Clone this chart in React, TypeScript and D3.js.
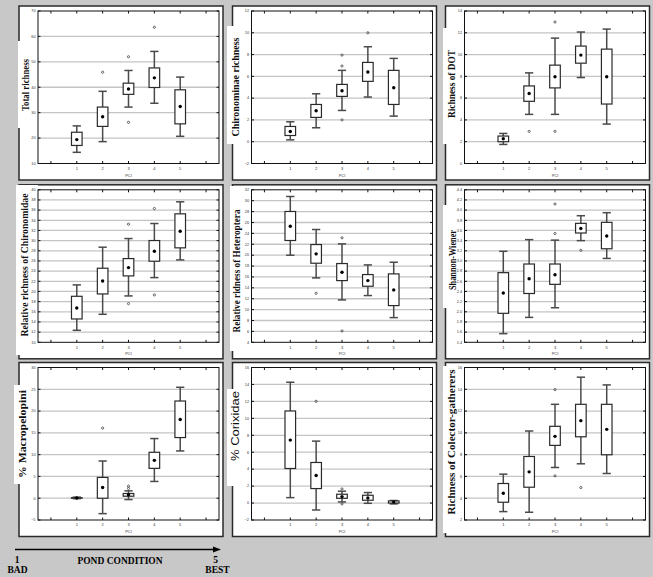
import * as d3 from 'd3';

const pciLevels = [1, 2, 3, 4, 5];
const xTickPositions = [0, 1, 2, 3, 4, 5, 6];

// each row: [whisker low, box low, mean, box high, whisker high] for PCI 1..5
const totalRichness = [
  [14.4, 17.1, 19.4, 22.3, 24.8],
  [18.6, 24.6, 28.4, 32.2, 38.4],
  [32.2, 37.2, 39.3, 41.6, 46.6],
  [33.7, 39.9, 43.7, 47.6, 54.1],
  [20.7, 25.6, 32.4, 39.0, 44.0],
];
const totalRichnessOut = [[2, 45.9], [3, 52.0], [3, 26.2], [4, 63.6]];
const totalRichnessTicks = [10, 20, 30, 40, 50, 60, 70];

const chironominae = [
  [0.17, 0.57, 0.94, 1.4, 1.83],
  [1.28, 2.23, 2.84, 3.42, 4.4],
  [2.87, 4.16, 4.68, 5.26, 6.55],
  [4.1, 5.54, 6.4, 7.28, 8.72],
  [2.35, 3.42, 4.95, 6.55, 7.65],
];
const chironominaeOut = [[3, 7.95], [3, 6.95], [3, 2.0], [4, 10.0]];
const chironominaeTicks = [-2, 0, 2, 4, 6, 8, 10, 12];

const dotRichness = [
  [1.75, 2.0, 2.27, 2.52, 2.76],
  [4.51, 5.71, 6.42, 7.12, 8.32],
  [4.51, 6.94, 7.97, 9.03, 11.51],
  [7.89, 9.21, 9.95, 10.78, 12.07],
  [3.62, 5.46, 7.97, 10.5, 12.34],
];
const dotRichnessOut = [[2, 2.95], [3, 12.99], [3, 2.95]];
const dotRichnessTicks = [0, 2, 4, 6, 8, 10, 12, 14];

const relChironomidae = [
  [12.36, 14.59, 16.76, 19.05, 21.29],
  [15.51, 19.51, 22.07, 24.57, 28.71],
  [19.12, 23.06, 24.7, 26.47, 30.41],
  [22.73, 25.95, 27.92, 30.02, 33.37],
  [26.21, 28.58, 31.86, 35.27, 37.64],
];
const relChironomidaeOut = [[3, 33.24], [3, 17.61], [4, 36.32], [4, 19.32]];
const relChironomidaeTicks = [10, 12, 14, 16, 18, 20, 22, 24, 26, 28, 30, 32, 34, 36, 38, 40];

const relHeteroptera = [
  [19.99, 22.69, 25.32, 28.02, 30.77],
  [15.82, 18.52, 20.24, 21.95, 24.71],
  [11.78, 15.33, 16.87, 18.46, 22.07],
  [12.58, 14.29, 15.33, 16.44, 18.21],
  [8.53, 10.74, 13.62, 16.56, 18.7],
];
const relHeteropteraOut = [[2, 13.0], [3, 23.18], [3, 6.08]];
const relHeteropteraTicks = [4, 6, 8, 10, 12, 14, 16, 18, 20, 22, 24, 26, 28, 30, 32];

const shannonWiener = [
  [1.57, 1.97, 2.37, 2.77, 3.19],
  [1.89, 2.36, 2.65, 2.94, 3.42],
  [2.08, 2.54, 2.73, 2.94, 3.41],
  [3.4, 3.55, 3.64, 3.74, 3.89],
  [3.05, 3.24, 3.49, 3.76, 3.95],
];
const shannonWienerOut = [[3, 4.12], [3, 3.54], [4, 3.21]];
const shannonWienerTicks = [1.4, 1.6, 1.8, 2.0, 2.2, 2.4, 2.6, 2.8, 3.0, 3.2, 3.4, 3.6, 3.8, 4.0, 4.2, 4.4];

const macropelopini = [
  [-0.1, 0.0, 0.05, 0.12, 0.25],
  [-3.54, 0.0, 2.46, 4.77, 8.54],
  [-0.31, 0.46, 0.77, 1.08, 1.69],
  [3.85, 6.85, 8.69, 10.54, 13.69],
  [10.85, 13.92, 18.08, 22.31, 25.46],
];
const macropelopiniOut = [[2, 16.08], [3, 2.77], [3, 2.25]];
const macropelopiniTicks = [-5, 0, 5, 10, 15, 20, 25, 30];

const corixidae = [
  [0.64, 4.08, 7.43, 10.87, 14.26],
  [-0.82, 1.71, 3.25, 4.79, 7.31],
  [0.13, 0.56, 0.76, 1.04, 1.4],
  [-0.03, 0.33, 0.6, 0.92, 1.24],
  [-0.1, 0.0, 0.12, 0.25, 0.3],
];
const corixidaeOut = [[2, 12.01], [3, 1.67], [3, -0.1]];
const corixidaeTicks = [-2, 0, 2, 4, 6, 8, 10, 12, 14, 16];

const colectorGatherers = [
  [2.77, 3.63, 4.46, 5.35, 6.21],
  [2.71, 5.01, 6.42, 7.83, 10.17],
  [6.82, 8.85, 9.68, 10.6, 12.62],
  [7.16, 9.64, 11.12, 12.62, 15.11],
  [6.27, 7.99, 10.32, 12.62, 14.4],
];
const colectorGatherersOut = [[3, 13.97], [3, 6.05], [4, 4.98]];
const colectorGatherersTicks = [2, 4, 6, 8, 10, 12, 14, 16];

const PW = 181;
const PH = 152.5;
const colLeft = [38, 251.5, 464.5];
const rowTop = [11, 189.8, 367.5];

const serif = '"Liberation Serif", "Times New Roman", serif';
const sans = '"Liberation Sans", Arial, sans-serif';

// label: text, label center, squeezed length, white backing box [x0, x1, y0, y1]
const panels = [
  { title: 'Total richness', stats: totalRichness, out: totalRichnessOut, ticks: totalRichnessTicks,
    col: 0, row: 0, lx: 25.7, ly: 85, len: 52, box: [18, 38, 41, 128] },
  { title: 'Chironominae richness', stats: chironominae, out: chironominaeOut, ticks: chironominaeTicks,
    col: 1, row: 0, lx: 235.5, ly: 87, len: 99, box: [227, 251, 26, 144] },
  { title: 'Richness of DOT', stats: dotRichness, out: dotRichnessOut, ticks: dotRichnessTicks,
    col: 2, row: 0, lx: 451, ly: 84, len: 68, box: [443, 464, 28, 144] },
  { title: 'Relative richness of Chironomidae', stats: relChironomidae, out: relChironomidaeOut, ticks: relChironomidaeTicks,
    col: 0, row: 1, lx: 24, ly: 265, len: 143, box: [16, 38, 185, 355] },
  { title: 'Relative ridness of Heteroptera', stats: relHeteroptera, out: relHeteropteraOut, ticks: relHeteropteraTicks,
    col: 1, row: 1, lx: 236, ly: 271, len: 123, box: [230, 251, 186, 351] },
  { title: 'Shannon-Wiener', stats: shannonWiener, out: shannonWienerOut, ticks: shannonWienerTicks,
    col: 2, row: 1, lx: 452, ly: 260, len: 60, box: [443, 466, 205, 308], dec: true },
  { title: '% Macropelopini', stats: macropelopini, out: macropelopiniOut, ticks: macropelopiniTicks,
    col: 0, row: 2, lx: 22.5, ly: 434, len: 88, box: [14, 38, 385, 484] },
  { title: '% Corixidae', stats: corixidae, out: corixidaeOut, ticks: corixidaeTicks,
    col: 1, row: 2, lx: 235.5, ly: 426, len: 70, box: [227, 251, 389, 486], sansLabel: true },
  { title: 'Richness of Colector-gatherers', stats: colectorGatherers, out: colectorGatherersOut, ticks: colectorGatherersTicks,
    col: 2, row: 2, lx: 451, ly: 442, len: 145, box: [443, 464, 366, 533] },
];

function BoxPanel({ p }: { p: any }) {
  const left = colLeft[p.col];
  const top = rowTop[p.row];
  const x = d3.scaleLinear().domain([-0.5, 6.5]).range([left, left + PW]);
  const y = d3.scaleLinear().domain([p.ticks[0], p.ticks[p.ticks.length - 1]]).range([top + PH, top]);
  const bw = x(0.41) - x(0);
  const cw = bw * 0.78;
  const fmt = p.dec ? d3.format('.1f') : d3.format('d');
  const [bx0, bx1, by0, by1] = p.box;

  return (
    <g>
      <rect x={left - 19} y={top - 5} width={204} height={174} fill="#fff" stroke="#2a2a2a" strokeWidth={1.5} />
      <rect x={bx0} y={by0} width={bx1 - bx0} height={by1 - by0} fill="#fff" />
      {p.ticks.slice(1, -1).map((t: number) => (
        <line key={t} x1={left} x2={left + PW} y1={y(t)} y2={y(t)} stroke="#c4c4c4" strokeWidth={1.3} />
      ))}
      <rect x={left} y={top} width={PW} height={PH} fill="none" stroke="#111" strokeWidth={1} />
      {xTickPositions.map((t) => (
        <g key={'xt' + t}>
          <line x1={x(t)} x2={x(t)} y1={top} y2={top + 2.5} stroke="#111" strokeWidth={1} />
          <line x1={x(t)} x2={x(t)} y1={top + PH} y2={top + PH - 2.5} stroke="#111" strokeWidth={1} />
        </g>
      ))}
      {p.ticks.map((t: number) => (
        <g key={'yt' + t}>
          <line x1={left} x2={left + 2.5} y1={y(t)} y2={y(t)} stroke="#111" strokeWidth={1} />
          <line x1={left + PW} x2={left + PW - 2.5} y1={y(t)} y2={y(t)} stroke="#111" strokeWidth={1} />
          <text x={left - 2.5} y={y(t) + 1.3} fontSize={3.8} fontFamily={sans} textAnchor="end" fill="#333">
            {fmt(t)}
          </text>
        </g>
      ))}
      {pciLevels.map((c) => (
        <text key={'xl' + c} x={x(c)} y={top + PH + 6.3} fontSize={4} fontFamily={sans} textAnchor="middle" fill="#333">
          {c}
        </text>
      ))}
      <text x={left + PW / 2} y={top + PH + 13} fontSize={4} fontFamily={sans} textAnchor="middle" fill="#333">
        PCI
      </text>
      {p.stats.map((s: number[], i: number) => {
        const cx = x(pciLevels[i]);
        const [wl, bl, m, bh, wh] = s;
        return (
          <g key={'b' + i}>
            <line x1={cx} x2={cx} y1={y(bh)} y2={y(wh)} stroke="#4a4a4a" strokeWidth={1.5} />
            <line x1={cx} x2={cx} y1={y(bl)} y2={y(wl)} stroke="#4a4a4a" strokeWidth={1.5} />
            <line x1={cx - cw / 2} x2={cx + cw / 2} y1={y(wh)} y2={y(wh)} stroke="#4a4a4a" strokeWidth={1.5} />
            <line x1={cx - cw / 2} x2={cx + cw / 2} y1={y(wl)} y2={y(wl)} stroke="#4a4a4a" strokeWidth={1.5} />
            <rect x={cx - bw / 2} y={y(bh)} width={bw} height={Math.max(y(bl) - y(bh), 0.5)}
              fill="#fff" stroke="#2a2a2a" strokeWidth={1.2} />
            <circle cx={cx} cy={y(m)} r={1.7} fill="#000" />
          </g>
        );
      })}
      {p.out.map((o: number[], i: number) => (
        <circle key={'o' + i} cx={x(o[0])} cy={y(o[1])} r={1.1} fill="none" stroke="#444" strokeWidth={0.8} />
      ))}
      <text
        transform={`translate(${p.lx},${p.ly}) rotate(-90)`}
        dy="0.35em"
        textAnchor="middle"
        fontFamily={p.sansLabel ? sans : serif}
        fontWeight={p.sansLabel ? 'normal' : 'bold'}
        fontSize={p.sansLabel ? 11 : 10.5}
        textLength={p.len}
        lengthAdjust="spacingAndGlyphs"
        fill="#111"
      >
        {p.title}
      </text>
    </g>
  );
}

export default function App() {
  return (
    <svg width={653} height={577} style={{ position: 'absolute', left: 0, top: 0, display: 'block' }}>
      <rect x={0} y={0} width={653} height={577} fill="#c8c8c8" />
      {panels.map((p, i) => (
        <BoxPanel key={i} p={p} />
      ))}
      <line x1={15} x2={215} y1={549.5} y2={549.5} stroke="#000" strokeWidth={1.5} />
      <path d="M213,546.5 L221,549.5 L213,552.5 Z" fill="#000" />
      <g fontFamily={serif} fontWeight="bold" fill="#000" fontSize={9.5}>
        <text x={17} y={563} textAnchor="middle">1</text>
        <text x={17.5} y={573} textAnchor="middle">BAD</text>
        <text x={120} y={563.5} textAnchor="middle">POND CONDITION</text>
        <text x={215.5} y={563} textAnchor="middle">5</text>
        <text x={217.5} y={573} textAnchor="middle">BEST</text>
      </g>
    </svg>
  );
}
